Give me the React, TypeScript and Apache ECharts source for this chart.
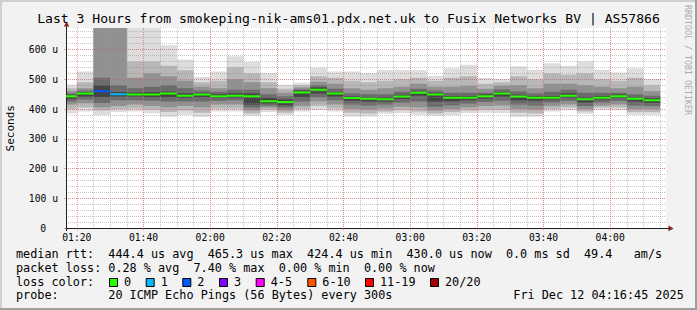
import React, { useEffect, useRef } from "react";
import * as echarts from "echarts";

// ---------- data ----------
const stepStarts = [
  "01:15", "01:20", "01:25", "01:30", "01:35", "01:40", "01:45", "01:50", "01:55",
  "02:00", "02:05", "02:10", "02:15", "02:20", "02:25", "02:30", "02:35", "02:40", "02:45", "02:50", "02:55",
  "03:00", "03:05", "03:10", "03:15", "03:20", "03:25", "03:30", "03:35", "03:40", "03:45", "03:50", "03:55",
  "04:00", "04:05", "04:10",
];
const stepMinutes = 5;
const viewStart = "01:16:45";
const viewEnd = "04:16:45";

// median rtt per step (µs)
const medianRtt = [443, 452, 460, 450, 449, 449, 452, 445, 449, 443, 445, 443, 426, 424, 456, 465, 452, 437, 435, 433, 442, 455, 449, 438, 438, 443, 452, 442, 438, 438, 445, 433, 438, 443, 435, 430];
// loss class per step (index into lossColors)
const lossClass = [0, 0, 2, 1, 0, 0, 0, 0, 0, 0, 0, 0, 0, 0, 0, 0, 0, 0, 0, 0, 0, 0, 0, 0, 0, 0, 0, 0, 0, 0, 0, 0, 0, 0, 0, 0];

// smoke bands (µs): outermost to innermost
const outerLo = [385, 392, 380, 390, 392, 385, 374, 381, 373, 392, 392, 378, 390, 380, 392, 398, 392, 375, 375, 384, 386, 381, 378, 380, 386, 388, 386, 374, 374, 392, 396, 384, 398, 396, 381, 381];
const outerHi = [482, 526, 900, 760, 720, 700, 614, 566, 508, 526, 577, 558, 521, 482, 488, 539, 526, 526, 521, 530, 530, 530, 512, 537, 549, 504, 501, 543, 532, 554, 545, 560, 532, 523, 537, 501];
const band2Lo = [400, 405, 395, 400, 402, 398, 390, 395, 388, 402, 402, 385, 398, 388, 400, 410, 402, 388, 385, 392, 396, 392, 385, 390, 395, 398, 398, 388, 385, 400, 405, 392, 405, 405, 390, 390];
const band2Hi = [470, 490, 850, 720, 560, 560, 545, 530, 490, 495, 540, 520, 490, 468, 480, 510, 505, 495, 490, 495, 500, 505, 495, 505, 510, 485, 490, 510, 500, 520, 515, 520, 500, 495, 505, 480];
const band3Lo = [415, 420, 405, 410, 415, 410, 405, 410, 405, 415, 415, 395, 405, 396, 410, 425, 415, 400, 398, 402, 408, 405, 395, 400, 405, 410, 412, 400, 398, 410, 415, 400, 412, 415, 400, 400];
const band3Hi = [460, 470, 750, 700, 505, 520, 510, 495, 475, 470, 500, 490, 470, 455, 472, 492, 485, 470, 465, 470, 475, 485, 475, 475, 478, 468, 478, 480, 470, 485, 485, 480, 475, 470, 475, 460];
const band4Lo = [425, 432, 420, 430, 430, 428, 425, 425, 425, 428, 430, 405, 412, 405, 425, 440, 430, 415, 412, 415, 422, 425, 408, 413, 418, 424, 428, 415, 412, 422, 428, 410, 422, 427, 412, 410];
const band4Hi = [452, 462, 505, 480, 470, 475, 480, 470, 462, 458, 465, 465, 450, 443, 466, 480, 468, 452, 450, 450, 458, 468, 462, 455, 455, 455, 466, 460, 452, 458, 465, 455, 455, 455, 450, 445];
const coreLo = [435, 442, 440, 442, 442, 440, 440, 437, 440, 437, 438, 415, 418, 413, 440, 452, 442, 428, 425, 425, 434, 445, 425, 426, 430, 435, 442, 430, 428, 432, 438, 422, 432, 437, 425, 420];
const coreHi = [448, 457, 480, 458, 456, 457, 460, 452, 455, 450, 452, 452, 438, 432, 462, 472, 458, 442, 440, 440, 448, 460, 455, 444, 444, 449, 458, 448, 443, 444, 452, 440, 444, 449, 440, 436];

const yMax = 672;
const yMajor = 100;
const yMinor = 20;
const xFirstMajor = "01:20";
const xMajor = 20;
const xMinor = 5;

const lossColors = ["#26ff00", "#00b8ff", "#0059ff", "#7e00ff", "#ff00ff", "#ff5500", "#ff0000", "#a10000"];
const lossLabels = ["0", "1", "2", "3", "4-5", "6-10", "11-19", "20/20"];
const bandColors = ["#dddddd", "#b7b7b7", "#919191", "#6b6b6b", "#454545"];

const titleText = "Last 3 Hours from smokeping-nik-ams01.pdx.net.uk to Fusix Networks BV | AS57866";
const legendRows: [number, string][][] = [
  [[0, "median rtt:"], [13, "444.4 us avg"], [27, "465.3 us max"], [41, "424.4 us min"], [55, "430.0 us now"], [69, "0.0 ms sd"], [80, "49.4"], [87, "am/s"]],
  [[0, "packet loss:"], [13, "0.28 % avg"], [25, "7.40 % max"], [37, "0.00 % min"], [49, "0.00 % now"]],
  [[0, "loss color:"]],
  [[0, "probe:"], [13, "20 ICMP Echo Pings (56 Bytes) every 300s"]],
];
const dateText = "Fri Dec 12 04:16:45 2025";

// ---------- helpers ----------
const toMin = (s: string) => {
  const p = s.split(":").map(Number);
  return p[0] * 60 + p[1] + (p[2] || 0) / 60;
};
const pad = (n: number) => String(n).padStart(2, "0");
const fmtTime = (v: number) => `${pad(Math.floor(v / 60))}:${pad(Math.round(v % 60))}`;

const MONO = "DejaVu Sans Mono";
const GRID_TOP = 28;
const GRID_H = 200.3;
const X_LEFT = 66;
const X_W = 600;
const minorColor = "rgba(143,143,143,0.5)";
const majorColor = "rgba(222,79,79,0.5)";

function buildOption() {
  const xMin = toMin(viewStart);
  const xMax = toMin(viewEnd);
  const pxPerMin = X_W / (xMax - xMin);
  const bMin = toMin(xFirstMajor);
  const gridBLeft = X_LEFT + (bMin - xMin) * pxPerMin;
  const gridBWidth = (xMax - bMin) * pxPerMin;

  const bands = [
    [outerLo, outerHi],
    [band2Lo, band2Hi],
    [band3Lo, band3Hi],
    [band4Lo, band4Hi],
    [coreLo, coreHi],
  ];
  const smokeData: number[][] = [];
  bands.forEach(([lo, hi], b) => {
    stepStarts.forEach((s, i) => {
      const t = toMin(s);
      smokeData.push([t, t + stepMinutes, lo[i], hi[i], b]);
    });
  });
  const medianData = stepStarts.map((s, i) => {
    const t = toMin(s);
    return [t, t + stepMinutes, medianRtt[i], lossClass[i]];
  });

  const textEl = (x: number, y: number, text: string, size: number, extra: any = {}) => ({
    type: "text",
    x,
    y,
    rotation: extra.rotation || 0,
    silent: true,
    style: {
      text,
      fill: extra.fill || "#000",
      fontFamily: MONO,
      fontSize: size,
      align: extra.align || "left",
      verticalAlign: "middle",
      textAlign: extra.align || "left",
      textVerticalAlign: "middle",
    },
  });

  const graphics: any[] = [];
  // 3D border
  graphics.push({ type: "rect", silent: true, shape: { x: 0, y: 0, width: 697, height: 2 }, style: { fill: "#cfcfcf" } });
  graphics.push({ type: "rect", silent: true, shape: { x: 0, y: 0, width: 2, height: 310 }, style: { fill: "#cfcfcf" } });
  graphics.push({ type: "rect", silent: true, shape: { x: 0, y: 308, width: 697, height: 2 }, style: { fill: "#9e9e9e" } });
  graphics.push({ type: "rect", silent: true, shape: { x: 695, y: 0, width: 2, height: 310 }, style: { fill: "#9e9e9e" } });

  graphics.push(textEl(348.5, 18.8, titleText, 13.1, { align: "center" }));
  graphics.push(textEl(10.5, 128.3, "Seconds", 11, { align: "center", rotation: Math.PI / 2 }));
  graphics.push(textEl(688, 60, "RRDTOOL / TOBI OETIKER", 8.3, { align: "center", rotation: -Math.PI / 2, fill: "#ababab" }));

  // axis extensions and arrows
  graphics.push({ type: "line", silent: true, shape: { x1: 666, y1: 228.5, x2: 669, y2: 228.5 }, style: { stroke: "#1f1f1f", lineWidth: 1 } });
  graphics.push({ type: "polygon", silent: true, shape: { points: [[668.5, 225.6], [668.5, 231.2], [673.5, 228.4]] }, style: { fill: "#801f1f" } });
  graphics.push({ type: "line", silent: true, shape: { x1: 66.5, y1: 28.5, x2: 66.5, y2: 26 }, style: { stroke: "#1f1f1f", lineWidth: 1 } });
  graphics.push({ type: "line", silent: true, shape: { x1: 66.5, y1: 228, x2: 66.5, y2: 231 }, style: { stroke: "#1f1f1f", lineWidth: 1 } });
  graphics.push({ type: "polygon", silent: true, shape: { points: [[63.9, 26.5], [69.3, 26.5], [66.6, 21.5]] }, style: { fill: "#801f1f" } });

  // legend
  const rowY = [254.3, 267.9, 281.6, 295.3];
  const charW = 7.1;
  legendRows.forEach((row, r) => {
    row.forEach(([col, txt]) => graphics.push(textEl(16 + col * charW, rowY[r], txt, 11.8)));
  });
  graphics.push(textEl(513.3, rowY[3], dateText, 11.8));
  const boxX = [109, 145.7, 182.3, 219, 255.7, 307.3, 365, 430];
  lossLabels.forEach((lbl, i) => {
    graphics.push({
      type: "rect",
      silent: true,
      shape: { x: boxX[i] + 0.5, y: 278.5, width: 8, height: 8 },
      style: { fill: lossColors[i], stroke: "#000", lineWidth: 1 },
    });
    graphics.push(textEl(boxX[i] + 15, rowY[2], lbl, 11.8));
  });

  const axisFont = { fontFamily: MONO, fontSize: 9.7, color: "#000" };

  return {
    animation: false,
    backgroundColor: "#f2f2f2",
    grid: [
      { left: X_LEFT, top: GRID_TOP, width: X_W, height: GRID_H, show: true, backgroundColor: "#ffffff", borderWidth: 0, outerBoundsMode: "none", containLabel: false },
      { left: gridBLeft, top: GRID_TOP, width: gridBWidth, height: GRID_H, show: false, outerBoundsMode: "none", containLabel: false },
    ],
    xAxis: [
      {
        gridIndex: 0, type: "value", min: xMin, max: xMax, position: "bottom", z: 3,
        axisLine: { show: true, lineStyle: { color: "#1f1f1f", width: 1 } },
        axisTick: { show: false }, axisLabel: { show: false }, splitLine: { show: false },
      },
      {
        gridIndex: 1, type: "value", min: bMin, max: xMax, interval: xMajor, position: "bottom", z: 4,
        axisLine: { show: false },
        axisTick: { show: true, length: 2, lineStyle: { color: majorColor } },
        axisLabel: { ...axisFont, margin: 4, formatter: (v: number) => fmtTime(v), showMinLabel: true, showMaxLabel: false },
        splitLine: { show: true, showMinLine: true, showMaxLine: false, lineStyle: { color: majorColor, type: [1, 1], width: 1 } },
      },
      {
        gridIndex: 1, type: "value", min: bMin, max: xMax, interval: xMinor, position: "bottom", z: 3,
        axisLine: { show: false }, axisTick: { show: false }, axisLabel: { show: false },
        splitLine: { show: true, showMinLine: false, showMaxLine: false, lineStyle: { color: minorColor, type: [1, 1], width: 1 } },
      },
    ],
    yAxis: [
      {
        gridIndex: 0, type: "value", min: 0, max: yMax, interval: yMajor, position: "left", z: 4,
        axisLine: { show: true, lineStyle: { color: "#1f1f1f", width: 1 } },
        axisTick: { show: true, length: 2, lineStyle: { color: majorColor } },
        axisLabel: {
          ...axisFont, margin: 8, showMaxLabel: false,
          formatter: (v: number) => (v === 0 ? "{z|0}" : `${v} u`),
          rich: { z: { ...axisFont, padding: [0, 11.8, 0, 0] } },
        },
        splitLine: { show: true, showMinLine: false, showMaxLine: false, lineStyle: { color: majorColor, type: [1, 1], width: 1 } },
      },
      {
        gridIndex: 0, type: "value", min: 0, max: yMax, interval: yMinor, position: "left", z: 3,
        axisLine: { show: false }, axisTick: { show: false }, axisLabel: { show: false },
        splitLine: { show: true, showMinLine: false, showMaxLine: false, lineStyle: { color: minorColor, type: [1, 1], width: 1 } },
      },
      { gridIndex: 1, type: "value", min: 0, max: yMax, show: false },
    ],
    series: [
      {
        type: "custom", xAxisIndex: 0, yAxisIndex: 0, clip: true, silent: true, z: 1,
        encode: { x: [0, 1], y: [2, 3] },
        data: smokeData,
        renderItem: (_p: any, api: any) => {
          const a = api.coord([api.value(0), api.value(3)]);
          const b = api.coord([api.value(1), api.value(2)]);
          return {
            type: "rect",
            shape: { x: a[0], y: a[1], width: b[0] - a[0], height: b[1] - a[1] },
            style: { fill: bandColors[api.value(4)] },
          };
        },
      },
      {
        type: "custom", xAxisIndex: 0, yAxisIndex: 0, clip: true, silent: true, z: 6,
        encode: { x: [0, 1], y: 2 },
        data: medianData,
        renderItem: (_p: any, api: any) => {
          const a = api.coord([api.value(0), api.value(2)]);
          const b = api.coord([api.value(1), api.value(2)]);
          return {
            type: "line",
            shape: { x1: a[0], y1: a[1], x2: b[0], y2: b[1] },
            style: { stroke: lossColors[api.value(3)], lineWidth: 2 },
          };
        },
      },
    ],
    graphic: { elements: graphics },
  };
}

export default function App() {
  const ref = useRef<HTMLDivElement>(null);
  useEffect(() => {
    if (!ref.current) return;
    const chart = echarts.init(ref.current, null, { renderer: "svg" });
    chart.setOption(buildOption() as any);
    return () => chart.dispose();
  }, []);
  return <div ref={ref} style={{ position: "fixed", left: 0, top: 0, width: 697, height: 310 }} />;
}
